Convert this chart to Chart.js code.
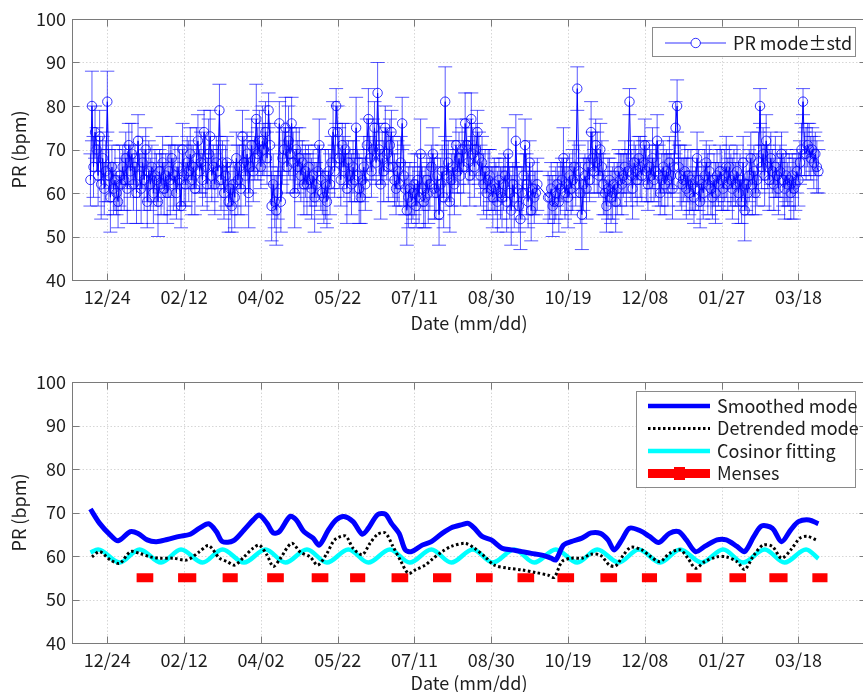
<!DOCTYPE html>
<html><head><meta charset="utf-8">
<script src="https://cdn.jsdelivr.net/npm/chart.js@4.4.1/dist/chart.umd.min.js"></script>
<style>
html,body{margin:0;padding:0;background:#fff;overflow:hidden;width:863px;height:692px}
#c1{position:absolute;left:0;top:0}
#c2{position:absolute;left:0;top:345px}
</style></head><body>
<canvas id="c1" width="875" height="345"></canvas>
<canvas id="c2" width="875" height="380"></canvas>
<script>
// x values are day offsets from 12/24 (first tick)
const tickDays = [0, 50, 100, 150, 200, 250, 300, 350, 400, 450];
const tickLabels = ['12/24', '02/12', '04/02', '05/22', '07/11', '08/30', '10/19', '12/08', '01/27', '03/18'];

// ---- top panel: daily PR mode and std, starting at day -11 ----
const modeStartDay = -11;
const prMode = [
  63,80,66,74,70,64,73,62,68,61, 65,81,64,59,66,61,63,60,58,64,
  62,66,63,68,61,71,65,69,62,66, 60,72,64,61,67,63,70,58,65,62,
  66,60,64,63,58,65,62,67,61,64, 60,65,63,68,62,64,60,66,63,57,
  70,64,62,67,65,69,63,66,61,68, 72,65,67,63,74,66,62,69,73,64,
  66,62,67,65,79,63,67,60,64,67, 58,61,57,62,59,68,63,66,61,73,
  67,64,69,60,66,71,65,68,77,69, 72,66,72,70,74,68,79,71,57,62,
  58,56,60,76,58,68,70,75,66,72, 69,76,67,60,70,66,68,64,67,62,
  65,62,66,63,61,64,59,62,65,71, 63,60,59,62,58,65,62,67,74,65,
  80,74,68,63,71,66,70,61,67,64, 62,66,63,75,64,61,59,63,66,62,
  71,77,68,65,70,75,67,83,70,62, 68,65,75,69,66,71,74,66,63,61,
  65,62,67,76,64,61,56,59,61,58, 60,62,57,63,59,69,61,58,59,63,
  60,62,66,69,61,60,64,55,62,65, 59,81,64,67,58,63,66,62,71,65,
  68,64,70,66,76,71,67,64,77,69, 66,70,74,68,64,67,62,65,60,63,
  64,61,59,62,61,58,63,60,59,62, 64,58,69,60,56,62,59,72,61,57,
  54,60,64,71,62,58,67,56,61,59, 60,62,null,null,null,null,null,null,59,59,
  61,57,58,60,62,58,61,63,68,60, 62,59,64,61,63,66,62,84,65,60,
  55,62,64,61,66,63,74,68,65,71, 67,64,70,66,62,60,57,61,63,59,
  60,62,58,61,65,63,62,64,66,63, 65,81,64,61,67,65,63,68,66,64,
  67,71,65,62,66,64,68,63,65,72, 64,60,63,66,62,65,63,67,64,61,
  66,75,80,66,64,62,63,65,61,64, 60,63,62,59,61,68,63,58,62,60,
  64,67,62,65,61,59,63,60,64,62, 65,63,61,64,66,62,66,63,61,64,
  62,65,60,63,58,67,56,62,60,64, 68,62,65,60,63,67,80,66,69,64,
  72,66,63,68,65,62,66,64,61,65, 69,63,61,64,62,63,60,64,61,62,
  65,63,67,70,81,69,69,71,70,68, 70,67,69,66,65
];
const prStd = [
  6,8,7,6,5,7,6,8,5,6, 7,7,6,8,5,6,7,5,6,7,
  6,5,7,6,8,5,6,7,6,5, 7,6,5,8,6,7,5,6,7,6,
  5,7,6,6,8,5,7,6,6,5, 7,6,8,5,6,7,6,5,7,5,
  6,7,5,6,7,6,8,5,6,7, 6,5,7,6,5,7,6,8,6,6,
  5,7,6,6,6,7,5,6,7,6, 7,6,6,5,7,6,8,5,6,6,
  6,7,5,8,6,6,7,5,8,6, 7,5,8,6,7,6,4,5,8,7,
  6,8,6,5,7,6,5,7,6,8, 6,6,7,8,5,6,7,6,5,7,
  6,7,5,6,7,6,8,5,6,6, 7,5,6,8,6,5,7,6,7,6,
  4,6,7,6,5,7,6,8,5,6, 7,6,5,7,6,8,6,5,7,6,
  6,7,5,6,7,6,5,7,6,8, 6,7,5,6,8,6,5,7,6,6,
  7,5,6,6,7,6,8,7,6,5, 6,7,5,6,6,8,5,6,7,6,
  7,6,5,6,7,6,5,7,6,6, 7,8,6,5,7,6,6,7,6,5,
  6,7,5,6,7,6,5,7,6,6, 7,6,5,6,7,6,7,5,6,7,
  6,5,7,6,6,7,5,6,7,6, 5,7,6,6,8,5,7,6,5,6,
  7,6,5,6,7,6,5,7,6,6, 5,6,null,null,null,null,null,null,6,5,
  6,7,5,6,5,7,6,5,7,6, 6,7,5,6,7,6,5,5,6,7,
  8,6,5,7,6,5,7,6,5,6, 7,5,6,6,7,5,6,7,5,6,
  6,5,7,6,5,6,7,5,6,6, 5,3,6,7,5,6,6,5,7,6,
  5,6,7,6,5,6,7,5,6,6, 7,5,6,6,7,5,6,6,5,7,
  6,6,6,5,7,6,5,6,7,6, 5,7,6,6,5,6,7,6,5,6,
  6,5,7,6,6,5,6,7,6,5, 6,7,5,6,7,6,5,6,7,6,
  5,6,7,6,5,6,7,6,5,6, 6,7,6,5,6,7,4,5,6,7,
  6,5,7,6,5,6,7,5,6,6, 5,6,7,6,5,6,6,5,7,6,
  5,6,5,6,3,5,6,5,6,5, 5,6,5,6,5
];

// ---- bottom panel ----
const smoothDays = [-11,-5,2,7,15,20,26,32,39,47,54,60,66,71,75,82,89,95,99,104,108,112,119,123,128,134,138,144,149,154,160,166,170,176,181,185,190,194,198,205,211,218,224,231,235,239,244,250,257,263,270,276,283,289,292,297,302,309,315,321,326,330,335,340,347,353,359,366,372,377,383,389,397,403,410,415,421,426,433,439,445,450,457,463];
const smoothVals = [70.8,67.5,64.8,63.5,65.6,65.2,63.7,63.3,63.8,64.5,65.0,66.4,67.4,65.6,63.3,63.5,66.0,68.3,69.4,67.5,65.3,65.6,69.1,68.3,65.6,64.1,62.5,66.0,68.3,69.1,67.9,65.0,66.4,69.5,69.6,67.5,65.2,61.4,61.0,62.5,63.3,65.2,66.5,67.2,67.5,66.4,64.5,63.7,61.8,61.4,61.0,60.6,60.2,59.5,59.1,62.5,63.3,64.1,65.3,65.2,63.7,61.4,63.7,66.4,65.8,64.5,63.1,65.2,65.6,63.7,61.0,62.2,63.7,63.7,62.2,61.0,64.5,66.9,66.4,63.3,66.0,67.9,68.3,67.4];

const detrDays = [-10,-5,2,8,15,21,28,34,43,52,60,66,73,78,83,89,95,99,104,108,112,120,126,132,137,143,148,155,160,166,171,176,181,186,191,196,201,207,212,218,224,233,239,246,252,261,270,279,287,291,296,302,309,315,321,327,331,336,341,348,354,360,366,373,378,383,389,397,403,410,415,421,427,433,439,445,451,456,462];
const detrVals = [59.8,61.0,59.1,58.3,61.0,60.6,59.8,59.5,59.5,59.1,61.0,62.4,59.5,58.7,57.9,59.8,61.8,62.5,60.2,57.6,59.1,62.9,60.8,59.8,57.9,60.6,63.7,64.6,61.8,60.3,62.9,65.0,65.3,62.2,58.9,56.0,56.9,57.9,59.4,61.0,62.2,62.9,61.8,59.8,57.9,57.2,56.8,56.2,55.6,55.1,58.7,59.5,59.5,60.4,60.2,57.9,57.7,60.2,62.0,61.4,59.8,58.7,60.6,61.4,59.5,57.2,58.7,59.8,59.8,58.7,56.9,60.2,62.5,62.2,59.5,61.4,64.1,64.5,63.6];

// cosinor fit: start, alternating peaks/troughs, end
const cosDays = [-11,-6,8,21,35,48,62,75,89,103,116,130,143,157,170,184,197,211,224,238,251,265,278,292,306,319,333,346,360,373,387,401,414,428,441,455,463];
const cosVals = [60.8,61.5,58.5,61.5,58.5,61.5,58.5,61.5,58.5,61.5,58.5,61.5,58.5,61.5,58.5,61.5,58.5,61.5,58.5,61.5,58.5,61.5,58.5,61.5,58.5,61.5,58.5,61.5,58.5,61.5,58.5,61.5,58.5,61.5,58.5,61.5,59.4];

const mensesStart = [22,49,78,107,136,161,188,215,243,270,296,324,351,380,408,434,462];
const mensesEnd   = [27,55,82,112,141,165,193,221,248,275,301,329,355,384,413,440,466];
const mensesLevel = 55;

// ---- styling ----
const FONT = "'Noto Sans CJK JP', 'Noto Sans', sans-serif";
const TEXT = '#1e1e1e';
const BOX = '#7a7a7a';
const GRID = '#d6d6d6';

function tickLabel(v) { const i = tickDays.indexOf(v); return i >= 0 ? tickLabels[i] : ''; }

function drawFrame(chart) {
  const {ctx, chartArea: a, scales: {x, y}} = chart;
  ctx.save();
  ctx.strokeStyle = BOX; ctx.lineWidth = 1;
  const L = Math.round(a.left) + 0.5, R = Math.round(a.right) + 0.5, T = Math.round(a.top) + 0.5, B = Math.round(a.bottom) + 0.5;
  ctx.strokeRect(L, T, R - L, B - T);
  ctx.beginPath();
  const tl = 7;
  tickDays.forEach(d => {
    const px = Math.round(x.getPixelForValue(d)) + 0.5;
    ctx.moveTo(px, B); ctx.lineTo(px, B - tl);
    ctx.moveTo(px, T); ctx.lineTo(px, T + tl);
  });
  y.ticks.forEach(t => {
    const py = Math.round(y.getPixelForValue(t.value)) + 0.5;
    ctx.moveTo(L, py); ctx.lineTo(L + tl, py);
    ctx.moveTo(R, py); ctx.lineTo(R - tl, py);
  });
  ctx.stroke();
  ctx.restore();
}

function drawGrid(chart) {
  const {ctx, chartArea: a, scales: {x, y}} = chart;
  ctx.save();
  ctx.strokeStyle = GRID; ctx.lineWidth = 1; ctx.setLineDash([1.5, 2]);
  ctx.beginPath();
  tickDays.forEach(d => { const px = Math.round(x.getPixelForValue(d)) + 0.5; ctx.moveTo(px, a.top); ctx.lineTo(px, a.bottom); });
  y.ticks.forEach(t => { const py = Math.round(y.getPixelForValue(t.value)) + 0.5; ctx.moveTo(a.left, py); ctx.lineTo(a.right, py); });
  ctx.stroke();
  ctx.restore();
}

function drawErrorBars(chart) {
  const {ctx, chartArea: a, scales: {x, y}} = chart;
  ctx.save();
  ctx.beginPath(); ctx.rect(a.left, a.top, a.width, a.height); ctx.clip();
  ctx.strokeStyle = 'rgba(0,0,255,0.65)'; ctx.lineWidth = 1;
  prMode.forEach((m, i) => {
    if (m == null) return;
    const px = x.getPixelForValue(modeStartDay + i);
    const yt = y.getPixelForValue(m + prStd[i]);
    const yb = y.getPixelForValue(m - prStd[i]);
    ctx.beginPath();
    ctx.moveTo(px, yt); ctx.lineTo(px, yb);
    ctx.moveTo(px - 7, yt); ctx.lineTo(px + 7, yt);
    ctx.moveTo(px - 7, yb); ctx.lineTo(px + 7, yb);
    ctx.stroke();
  });
  ctx.restore();
}

function legendTop(chart) {
  const ctx = chart.ctx;
  ctx.save();
  ctx.fillStyle = '#fff'; ctx.fillRect(652.5, 27.5, 203, 29);
  ctx.strokeStyle = '#8a8a8a'; ctx.lineWidth = 1; ctx.strokeRect(652.5, 27.5, 203, 29);
  ctx.strokeStyle = 'rgba(0,0,255,0.8)';
  ctx.beginPath(); ctx.moveTo(665, 43); ctx.lineTo(726, 43); ctx.stroke();
  ctx.beginPath(); ctx.arc(695.7, 43, 4.7, 0, Math.PI * 2); ctx.fillStyle = '#fff'; ctx.fill(); ctx.stroke();
  ctx.fillStyle = TEXT; ctx.font = "18px " + FONT; ctx.textBaseline = 'middle'; ctx.textAlign = 'left';
  ctx.fillText('PR mode\u00b1std', 733, 43);
  ctx.restore();
}

function legendBottom(chart) {
  const ctx = chart.ctx;
  ctx.save();
  ctx.fillStyle = '#fff'; ctx.fillRect(636.5, 46.5, 219, 96);
  ctx.strokeStyle = '#8a8a8a'; ctx.lineWidth = 1; ctx.strokeRect(636.5, 46.5, 219, 96);
  const rows = [61, 83.5, 106, 128.5];
  const x0 = 648, x1 = 710;
  ctx.strokeStyle = '#0000ff'; ctx.lineWidth = 4.5;
  ctx.beginPath(); ctx.moveTo(x0, rows[0]); ctx.lineTo(x1, rows[0]); ctx.stroke();
  ctx.strokeStyle = '#000'; ctx.lineWidth = 3; ctx.setLineDash([2.5, 2.5]);
  ctx.beginPath(); ctx.moveTo(x0, rows[1]); ctx.lineTo(x1, rows[1]); ctx.stroke();
  ctx.setLineDash([]);
  ctx.strokeStyle = '#00ffff'; ctx.lineWidth = 4.5;
  ctx.beginPath(); ctx.moveTo(x0, rows[2]); ctx.lineTo(x1, rows[2]); ctx.stroke();
  ctx.strokeStyle = '#ff0000'; ctx.lineWidth = 9;
  ctx.beginPath(); ctx.moveTo(x0, rows[3]); ctx.lineTo(x1, rows[3]); ctx.stroke();
  ctx.fillStyle = '#ff0000'; ctx.fillRect(674, rows[3] - 6.5, 11, 13);
  ctx.fillStyle = TEXT; ctx.font = "18px " + FONT; ctx.textBaseline = 'middle'; ctx.textAlign = 'left';
  ['Smoothed mode', 'Detrended mode', 'Cosinor fitting', 'Menses'].forEach((t, i) => ctx.fillText(t, 717, rows[i]));
  ctx.restore();
}

function framePlugin(legendFn, withErr) {
  return {
    id: 'frame',
    beforeDatasetsDraw(chart) { drawGrid(chart); if (withErr) drawErrorBars(chart); },
    afterDatasetsDraw(chart) { drawFrame(chart); legendFn(chart); }
  };
}

function makeScales(xAxisHeight, xTitlePad) {
  return {
    x: {
      type: 'linear', min: -23, max: 494,
      afterBuildTicks: s => { s.ticks = tickDays.map(v => ({value: v})); },
      afterFit: s => { s.height = xAxisHeight; },
      grid: {display: false, drawTicks: false}, border: {display: false},
      ticks: {autoSkip: false, maxRotation: 0, minRotation: 0, padding: 6, color: TEXT, font: {family: FONT, size: 18}, callback: v => tickLabel(v)},
      title: {display: true, text: 'Date (mm/dd)', color: TEXT, font: {family: FONT, size: 18}, padding: {top: 0, bottom: xTitlePad}}
    },
    y: {
      min: 40, max: 100,
      afterFit: s => { s.width = 72; },
      grid: {display: false, drawTicks: false}, border: {display: false},
      ticks: {stepSize: 10, padding: 6, color: TEXT, font: {family: FONT, size: 18}},
      title: {display: true, text: 'PR (bpm)', color: TEXT, font: {family: FONT, size: 18}, padding: {top: 8, bottom: 0}}
    }
  };
}

const baseOpts = {responsive: false, animation: false, devicePixelRatio: 1, events: []};

new Chart(document.getElementById('c1'), {
  type: 'line',
  data: {datasets: [{
    label: 'PR mode\u00b1std',
    data: prMode.map((v, i) => ({x: modeStartDay + i, y: v})),
    borderColor: '#0000ff', borderWidth: 1, spanGaps: true, tension: 0,
    pointRadius: 4.7, pointBorderColor: 'rgba(0,0,255,0.8)', pointBackgroundColor: 'rgba(0,0,0,0)', pointBorderWidth: 1
  }]},
  options: Object.assign({}, baseOpts, {
    layout: {padding: {top: 19, left: 0, right: 9, bottom: 0}},
    plugins: {legend: {display: false}, tooltip: {enabled: false}},
    scales: makeScales(65, 11)
  }),
  plugins: [framePlugin(legendTop, true)]
});

const mensesData = [];
mensesStart.forEach((s, i) => {
  mensesData.push({x: s, y: mensesLevel}, {x: mensesEnd[i], y: mensesLevel}, {x: mensesEnd[i] + 0.5, y: null});
});

new Chart(document.getElementById('c2'), {
  type: 'line',
  data: {datasets: [
    {label: 'Menses', data: mensesData, borderColor: '#ff0000', borderWidth: 9, borderCapStyle: 'square', borderJoinStyle: 'miter',
     spanGaps: false, pointRadius: 0, order: 4},
    {label: 'Cosinor fitting', data: cosDays.map((d, i) => ({x: d, y: cosVals[i]})), borderColor: '#00ffff', borderWidth: 4.5,
     cubicInterpolationMode: 'monotone', pointRadius: 0, order: 3},
    {label: 'Detrended mode', data: detrDays.map((d, i) => ({x: d, y: detrVals[i]})), borderColor: '#000000', borderWidth: 3,
     borderDash: [2.5, 2.5], tension: 0.3, pointRadius: 0, order: 2},
    {label: 'Smoothed mode', data: smoothDays.map((d, i) => ({x: d, y: smoothVals[i]})), borderColor: '#0000ff', borderWidth: 5,
     tension: 0.3, pointRadius: 0, order: 1}
  ]},
  options: Object.assign({}, baseOpts, {
    layout: {padding: {top: 37, left: 0, right: 9, bottom: 0}},
    plugins: {legend: {display: false}, tooltip: {enabled: false}},
    scales: makeScales(82, 31)
  }),
  plugins: [framePlugin(legendBottom, false)]
});
</script>
</body></html>
